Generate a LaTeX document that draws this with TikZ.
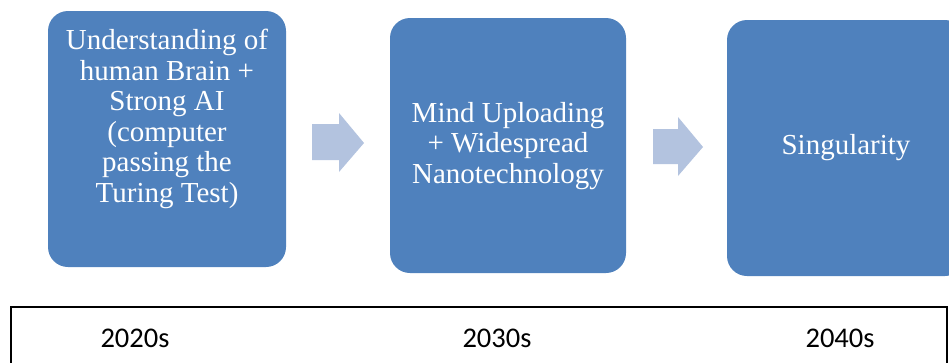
\documentclass[tikz,border=0pt]{standalone}
\usepackage{fontspec}
\setmainfont{Liberation Serif}
\newfontfamily\calib{Carlito}
\definecolor{boxblue}{HTML}{4F81BD}
\definecolor{arrowblue}{HTML}{B3C3DF}
\begin{document}
\begin{tikzpicture}[x=1pt,y={(0pt,-1pt)},
  stagebox/.style={fill=boxblue,draw=none,rounded corners=20pt,inner sep=0pt,minimum width=238pt},
  stagetext/.style={text=white,align=center,font=\fontsize{29}{30.5}\selectfont,inner sep=0pt},
  yeartext/.style={font=\calib\fontsize{28.5}{30}\selectfont,text=black,inner sep=0pt},
  arrowfill/.style={fill=arrowblue,draw=none}]
\useasboundingbox (0,0) rectangle (949,362);
\clip (0,0) rectangle (949,362);
% stage boxes
\node[stagebox,minimum height=256pt] (b1) at (167,139) {};
\node[stagebox,minimum height=255pt,minimum width=236pt] (b2) at (508,145.5) {};
\node[stagebox,minimum height=256pt] (b3) at (846,148) {};
% texts
\node[stagetext] (t1) at (167,119) {Understanding of\\human Brain +\\Strong AI\\(computer\\passing the\\Turing Test)};
\node[stagetext] (t2) at (508,146) {Mind Uploading\\+ Widespread\\Nanotechnology};
\node[stagetext] (t3) at (846,148) {Singularity};
% arrows
\fill[arrowfill] (312,124) -- (339,124) -- (339,113) -- (364,143) -- (339,172) -- (339,160) -- (312,160) -- cycle;
\fill[arrowfill] (653,129) -- (678,129) -- (678,117) -- (703,147) -- (678,176) -- (678,164) -- (653,164) -- cycle;
% timeline frame
\node[draw=black,line width=1.3pt,minimum width=936pt,minimum height=80pt,inner sep=0pt] (frame) at (479,347) {};
\node[yeartext] (y1) at (135,338) {2020s};
\node[yeartext] (y2) at (497,338) {2030s};
\node[yeartext] (y3) at (840,338) {2040s};
\end{tikzpicture}
\end{document}
